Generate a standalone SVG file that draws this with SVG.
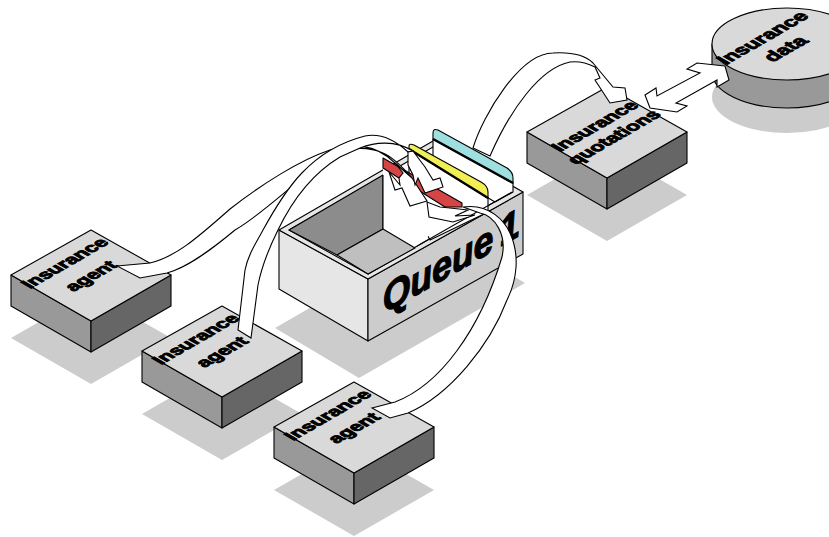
<svg xmlns="http://www.w3.org/2000/svg" width="829" height="537" viewBox="0 0 829 537">
<style>
.shadow{fill:#ccc;stroke:none}
.ln{stroke:#000;stroke-width:1.1;stroke-linejoin:round}
.top{fill:#d9d9d9}.left{fill:#999}.right{fill:#666}
.rib{fill:#fff;stroke:#000;stroke-width:1.1;stroke-linejoin:miter}
text{font-family:"Liberation Sans",Arial,sans-serif;font-weight:bold;fill:#000;text-anchor:middle;stroke:#000;stroke-width:1.2}
.t{font-size:19.5px}.d{font-size:20.5px}
.q{font-size:41px;font-style:italic;text-anchor:start;stroke-width:1.2;word-spacing:-4px}
</style>
<rect width="829" height="537" fill="#fff"/>
<defs>
<g id="slab">
<polygon class="shadow" points="-80,108 0,154 80,108 0,62"/>
<polygon class="left ln" points="-80,45 0,91 0,122 -80,76"/>
<polygon class="right ln" points="80,45 0,91 0,122 80,76"/>
<polygon class="top ln" points="0,0 80,45 0,91 -80,45"/>
</g>
</defs>

<g id="queue">
<polygon class="shadow" points="275,328 359,378 525,283 440,233"/>
<polygon fill="#e6e6e6" class="ln" points="279,230 368,279 368,341 279,289"/>
<polygon fill="#ccc" class="ln" points="368,279 523,192 523,254 368,341"/>
<polygon fill="#e6e6e6" class="ln" points="279,230 433,141 523,192 368,279"/>
<polygon fill="#fff" class="ln" points="289,230 433,147 512,192 368,274"/>
<polygon fill="#8c8c8c" class="ln" points="289,230 383,175 383,229 337,255"/>
<path fill="#fff" class="ln" d="M433,139L513,183V192L495,202L433,165Z"/>
<path fill="#9ee0e0" class="ln" d="M433,139V133Q433,128 438,130L507,168Q513,172 513,178V183Z"/>
<path d="M433,139L513,183" stroke="#000" stroke-width="2.4"/>
<path fill="#fff" class="ln" d="M409,149L488,198V212L430,240L409,200Z"/>
<path fill="#f2ee55" class="ln" d="M409,149V146Q409,143 414,145L481,182Q488,186 488,192V198Z"/>
<path d="M409,149L488,198" stroke="#000" stroke-width="2.4"/>
<path fill="#fff" stroke="none" d="M383,168L445,204L462,206L415,248L383,229Z"/>
<path fill="#d64545" class="ln" d="M383,158L462,203V207H445L383,168Z"/>
<path d="M383,175V229" class="ln"/>
<path d="M368,274L512,192" class="ln" fill="none"/>
<polygon fill="#bfbfbf" class="ln" points="337,255 383,229 415,248 368,274"/>
<text class="q" transform="matrix(.866,-.5,.1,.95,384,314)">Queue 1</text>
</g>

<g id="agent1"><use href="#slab" x="91" y="230"/>
<text class="t" transform="matrix(.866,-.5,.8,.46,70,266)">Insurance</text>
<text class="t" transform="matrix(.866,-.5,.8,.46,96,279)">agent</text></g>
<g id="agent2"><use href="#slab" x="222" y="306"/>
<text class="t" transform="matrix(.866,-.5,.8,.46,201,342)">Insurance</text>
<text class="t" transform="matrix(.866,-.5,.8,.46,227,355)">agent</text></g>
<g id="agent3"><use href="#slab" x="354" y="382"/>
<text class="t" transform="matrix(.866,-.5,.8,.46,333,418)">Insurance</text>
<text class="t" transform="matrix(.866,-.5,.8,.46,359,431)">agent</text></g>
<g id="quotations"><use href="#slab" x="607" y="87"/>
<text class="t" transform="matrix(.866,-.5,.8,.46,600,129)">Insurance</text>
<text class="t" transform="matrix(.866,-.5,.8,.46,619,140)">quotations</text></g>
<g id="data">
<ellipse class="shadow" cx="787" cy="97" rx="75" ry="36"/>
<path class="left ln" d="M712,44V72A75,36 0 0 0 862,72V44Z"/>
<ellipse class="top ln" cx="787" cy="44" rx="75" ry="36"/>
<text class="d" transform="matrix(.866,-.5,.8,.46,768,41)">Insurance</text>
<text class="d" transform="matrix(.866,-.5,.8,.46,791,52)">data</text>
</g>

<g id="connectors">
<path class="rib" d="M117,266L150,263C175,257 195,240 230,209C262,184 300,160 330,150C350,143 375,143 395,163L412,178C405,170 395,158 383,153C370,147 355,148 345,150C310,165 270,210 235,230C205,255 185,268 167,273L140,278Z"/>
<polygon class="rib" points="395,163 403,173 399,178 400,185 389,172 395,190 402,188 410,206 427,201 412,178"/>
<path class="rib" d="M238,330L245,270C248,255 255,245 263,230C285,190 310,150 365,136C380,133 395,140 408,152L413,151C395,140 375,142 360,148L340,157C310,175 290,205 278,230C268,250 262,265 258,285L251,338Z"/>
<polygon class="rib" points="408,152 408,165 413,175 415,185 418,178 425,193 443,187 440,178 433,180 425,167 413,151"/>
<path class="rib" d="M372,408L395,402C440,385 480,330 502,257C507,235 495,216 480,213L463,207C490,203 505,222 510,233C520,255 517,280 507,300C490,345 450,395 408,413L390,418Z"/>
<polygon class="rib" points="427,202 429,217 453,222 475,215 455,216 468,210 450,208 440,207"/>
<path class="rib" d="M473,148C483,115 520,53 553,53C570,52 585,55 593,63L613,87L625,88L627,100L610,103L595,80L600,78L595,67C585,62 578,61 570,62C540,68 510,110 490,156Z"/>
<polygon class="rib" points="725,66 697,63 687,69 700,73 657,96 656,88 645,95 650,108 677,112 687,106 676,103 717,80 717,87 729,80"/>
</g>
</svg>
